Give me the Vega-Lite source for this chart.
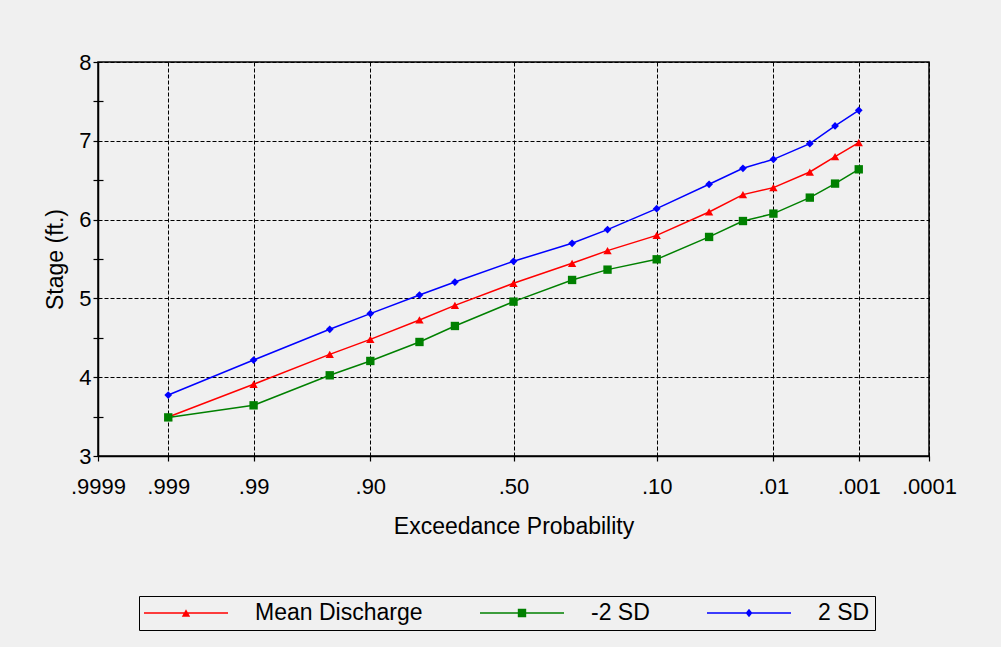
{
  "$schema": "https://vega.github.io/schema/vega-lite/v6.json",
  "width": 831,
  "height": 394,
  "autosize": {"type": "none"},
  "padding": {"left": 98, "top": 62, "right": 72, "bottom": 191},
  "background": "#f0f0f0",
  "config": {
    "font": "Liberation Sans",
    "view": {"stroke": "#000", "strokeWidth": 1.5},
    "axis": {
      "labelColor": "#000",
      "titleColor": "#000",
      "domainColor": "#000",
      "domainWidth": 1.5,
      "tickColor": "#000",
      "tickWidth": 1.2,
      "gridColor": "#000",
      "gridDash": [4, 2],
      "gridOpacity": 1,
      "gridWidth": 1,
      "labelFontSize": 22,
      "titleFontSize": 23,
      "titleFontWeight": "normal",
      "labelFont": "Liberation Sans",
      "titleFont": "Liberation Sans"
    },
    "legend": {"labelFont": "Liberation Sans", "labelColor": "#000"}
  },
  "data": {
    "values": [
      {"p": 0.999, "series": "Mean Discharge", "stage": 3.495},
      {"p": 0.99, "series": "Mean Discharge", "stage": 3.91},
      {"p": 0.95, "series": "Mean Discharge", "stage": 4.29},
      {"p": 0.9, "series": "Mean Discharge", "stage": 4.48},
      {"p": 0.8, "series": "Mean Discharge", "stage": 4.726},
      {"p": 0.7, "series": "Mean Discharge", "stage": 4.912},
      {"p": 0.5, "series": "Mean Discharge", "stage": 5.192},
      {"p": 0.3, "series": "Mean Discharge", "stage": 5.445},
      {"p": 0.2, "series": "Mean Discharge", "stage": 5.606},
      {"p": 0.1, "series": "Mean Discharge", "stage": 5.8},
      {"p": 0.04, "series": "Mean Discharge", "stage": 6.097},
      {"p": 0.02, "series": "Mean Discharge", "stage": 6.317},
      {"p": 0.01, "series": "Mean Discharge", "stage": 6.406},
      {"p": 0.004, "series": "Mean Discharge", "stage": 6.604},
      {"p": 0.002, "series": "Mean Discharge", "stage": 6.799},
      {"p": 0.001, "series": "Mean Discharge", "stage": 6.977},
      {"p": 0.999, "series": "-2 SD", "stage": 3.49},
      {"p": 0.99, "series": "-2 SD", "stage": 3.643},
      {"p": 0.95, "series": "-2 SD", "stage": 4.024},
      {"p": 0.9, "series": "-2 SD", "stage": 4.206},
      {"p": 0.8, "series": "-2 SD", "stage": 4.447},
      {"p": 0.7, "series": "-2 SD", "stage": 4.65},
      {"p": 0.5, "series": "-2 SD", "stage": 4.959},
      {"p": 0.3, "series": "-2 SD", "stage": 5.234},
      {"p": 0.2, "series": "-2 SD", "stage": 5.365},
      {"p": 0.1, "series": "-2 SD", "stage": 5.496},
      {"p": 0.04, "series": "-2 SD", "stage": 5.78},
      {"p": 0.02, "series": "-2 SD", "stage": 5.982},
      {"p": 0.01, "series": "-2 SD", "stage": 6.076},
      {"p": 0.004, "series": "-2 SD", "stage": 6.279},
      {"p": 0.002, "series": "-2 SD", "stage": 6.457},
      {"p": 0.001, "series": "-2 SD", "stage": 6.638},
      {"p": 0.999, "series": "2 SD", "stage": 3.774},
      {"p": 0.99, "series": "2 SD", "stage": 4.218},
      {"p": 0.95, "series": "2 SD", "stage": 4.608},
      {"p": 0.9, "series": "2 SD", "stage": 4.807},
      {"p": 0.8, "series": "2 SD", "stage": 5.043},
      {"p": 0.7, "series": "2 SD", "stage": 5.208},
      {"p": 0.5, "series": "2 SD", "stage": 5.471},
      {"p": 0.3, "series": "2 SD", "stage": 5.699},
      {"p": 0.2, "series": "2 SD", "stage": 5.873},
      {"p": 0.1, "series": "2 SD", "stage": 6.139},
      {"p": 0.04, "series": "2 SD", "stage": 6.448},
      {"p": 0.02, "series": "2 SD", "stage": 6.651},
      {"p": 0.01, "series": "2 SD", "stage": 6.765},
      {"p": 0.004, "series": "2 SD", "stage": 6.964},
      {"p": 0.002, "series": "2 SD", "stage": 7.188},
      {"p": 0.001, "series": "2 SD", "stage": 7.387}
    ]
  },
  "transform": [{"calculate": "-quantileNormal(datum.p)", "as": "z"}],
  "resolve": {"axis": {"y": "independent"}},
  "layer": [
    {
      "transform": [{"filter": "datum.series === 'Mean Discharge'"}],
      "mark": {"type": "line", "strokeWidth": 1.5, "stroke": "#ff0000"},
      "encoding": {
        "x": {
          "field": "z",
          "type": "quantitative",
          "scale": {"domain": [-3.719016, 3.719016], "nice": false, "zero": false},
          "axis": {
            "values": [-3.719016, -3.090232, -2.326348, -1.281552, 0, 1.281552, 2.326348, 3.090232, 3.719016],
            "labelExpr": "datum.value < -3.5 ? '.9999' : datum.value < -3 ? '.999' : datum.value < -2 ? '.99' : datum.value < -1 ? '.90' : datum.value < 0.5 ? '.50' : datum.value < 2 ? '.10' : datum.value < 3 ? '.01' : datum.value < 3.5 ? '.001' : '.0001'",
            "title": "Exceedance Probability",
            "tickSize": 5,
            "labelPadding": 15,
            "titlePadding": 18,
            "grid": true,
            "labelFlush": false,
            "labelOverlap": false
          }
        },
        "y": {
          "field": "stage",
          "type": "quantitative",
          "scale": {"domain": [3, 8], "nice": false, "zero": false},
          "axis": {
            "values": [3, 4, 5, 6, 7, 8],
            "title": "Stage (ft.)",
            "tickSize": 5,
            "labelPadding": 2,
            "titlePadding": 11,
            "grid": true,
            "labelFlush": false
          }
        }
      }
    },
    {
      "transform": [{"filter": "datum.series === '-2 SD'"}],
      "mark": {"type": "line", "strokeWidth": 1.5, "stroke": "#008000"},
      "encoding": {
        "x": {"field": "z", "type": "quantitative"},
        "y": {"field": "stage", "type": "quantitative", "axis": null}
      }
    },
    {
      "transform": [{"filter": "datum.series === '2 SD'"}],
      "mark": {"type": "line", "strokeWidth": 1.5, "stroke": "#0000ff"},
      "encoding": {
        "x": {"field": "z", "type": "quantitative"},
        "y": {"field": "stage", "type": "quantitative", "axis": null}
      }
    },
    {
      "transform": [{"filter": "datum.series === 'Mean Discharge'"}],
      "mark": {"type": "point", "filled": true, "opacity": 1, "shape": "triangle-up", "size": 70, "fill": "#ff0000", "stroke": null},
      "encoding": {
        "x": {"field": "z", "type": "quantitative"},
        "y": {"field": "stage", "type": "quantitative", "axis": null}
      }
    },
    {
      "transform": [{"filter": "datum.series === '-2 SD'"}],
      "mark": {"type": "point", "filled": true, "opacity": 1, "shape": "square", "size": 70, "fill": "#008000", "stroke": null},
      "encoding": {
        "x": {"field": "z", "type": "quantitative"},
        "y": {"field": "stage", "type": "quantitative", "axis": null}
      }
    },
    {
      "transform": [{"filter": "datum.series === '2 SD'"}],
      "mark": {"type": "point", "filled": true, "opacity": 1, "shape": "diamond", "size": 60, "fill": "#0000ff", "stroke": null},
      "encoding": {
        "x": {"field": "z", "type": "quantitative"},
        "y": {"field": "stage", "type": "quantitative", "axis": null}
      }
    },
    {
      "mark": {"type": "point", "filled": true, "opacity": 0},
      "encoding": {
        "x": {"field": "z", "type": "quantitative"},
        "y": {"field": "stage", "type": "quantitative", "axis": null},
        "color": {
          "field": "series",
          "type": "nominal",
          "scale": {"domain": ["Mean Discharge", "-2 SD", "2 SD"], "range": ["#ff0000", "#008000", "#0000ff"]},
          "legend": {
            "orient": "none",
            "legendX": 41,
            "legendY": 534,
            "direction": "horizontal",
            "columns": 3,
            "title": null,
            "strokeColor": "#000",
            "fillColor": "#f0f0f0",
            "padding": 5,
            "labelFontSize": 23,
            "labelLimit": 400,
            "labelOffset": 57,
            "symbolOffset": 30,
            "columnPadding": 57,
            "symbolSize": 576,
            "symbolStrokeWidth": 0,
            "symbolOpacity": 1
          }
        },
        "shape": {
          "field": "series",
          "type": "nominal",
          "scale": {
            "domain": ["Mean Discharge", "-2 SD", "2 SD"],
            "range": [
              "M-3.5,-0.065H3.5V0.065H-3.5Z M-0.35,0.31L0,-0.31L0.35,0.31Z",
              "M-3.5,-0.065H3.5V0.065H-3.5Z M-0.35,-0.35H0.35V0.35H-0.35Z",
              "M-3.5,-0.065H3.5V0.065H-3.5Z M0,-0.35L0.28,0L0,0.35L-0.28,0Z"
            ]
          },
          "legend": {
            "orient": "none",
            "legendX": 41,
            "legendY": 534,
            "direction": "horizontal",
            "columns": 3,
            "title": null,
            "strokeColor": "#000",
            "fillColor": "#f0f0f0",
            "padding": 5,
            "labelFontSize": 23,
            "labelLimit": 400,
            "labelOffset": 57,
            "symbolOffset": 30,
            "columnPadding": 57,
            "symbolSize": 576,
            "symbolStrokeWidth": 0,
            "symbolOpacity": 1
          }
        }
      }
    },
    {
      "mark": {"type": "point", "opacity": 0},
      "encoding": {
        "x": {"field": "z", "type": "quantitative"},
        "y": {
          "field": "stage",
          "type": "quantitative",
          "axis": {
            "orient": "left",
            "values": [3.5, 4.5, 5.5, 6.5, 7.5],
            "offset": -5,
            "tickSize": 10,
            "labels": false,
            "domain": false,
            "grid": false,
            "title": null
          }
        }
      }
    }
  ]
}
